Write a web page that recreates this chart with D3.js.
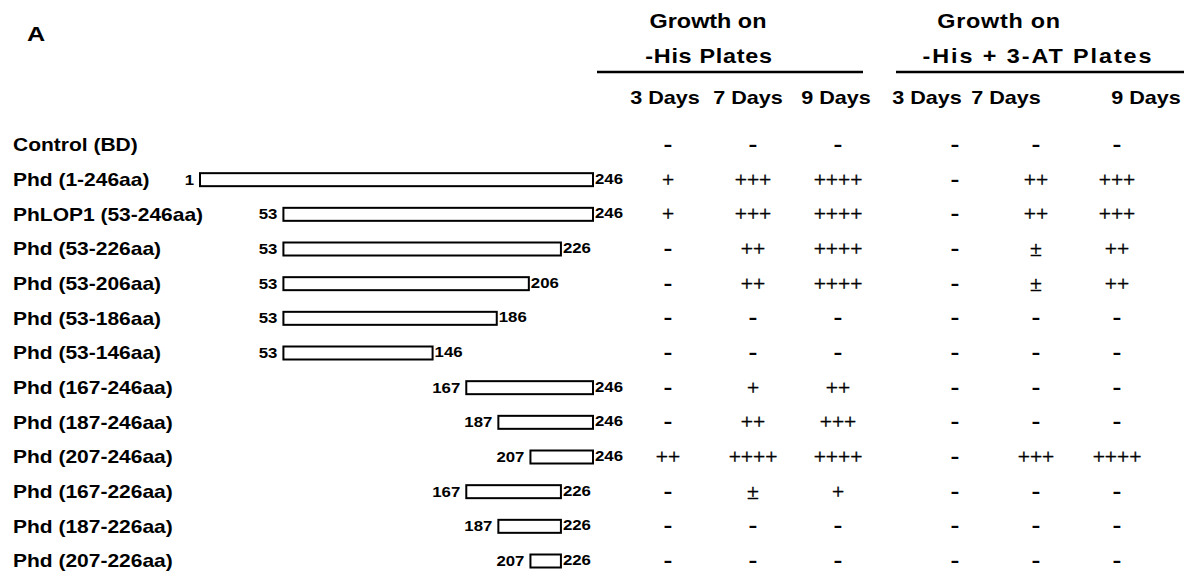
<!DOCTYPE html>
<html>
<head>
<meta charset="utf-8">
<script src="https://cdn.jsdelivr.net/npm/d3@7"></script>
<style>
  body { margin: 0; background: #fff; }
  text { font-family: "Liberation Sans", Arial, Helvetica, sans-serif; fill: #000; }
</style>
</head>
<body>
<svg id="chart"></svg>
<script>
// Data
const constructs = [
  "Control (BD)", "Phd (1-246aa)", "PhLOP1 (53-246aa)", "Phd (53-226aa)",
  "Phd (53-206aa)", "Phd (53-186aa)", "Phd (53-146aa)", "Phd (167-246aa)",
  "Phd (187-246aa)", "Phd (207-246aa)", "Phd (167-226aa)", "Phd (187-226aa)",
  "Phd (207-226aa)"
];
const startAA = [null, 1, 53, 53, 53, 53, 53, 167, 187, 207, 167, 187, 207];
const endAA   = [null, 246, 246, 226, 206, 186, 146, 246, 246, 246, 226, 226, 226];
const days = ["3 Days", "7 Days", "9 Days"];
const hisGrowth = [
  ["-", "-", "-"], ["+", "+++", "++++"], ["+", "+++", "++++"], ["-", "++", "++++"],
  ["-", "++", "++++"], ["-", "-", "-"], ["-", "-", "-"], ["-", "+", "++"],
  ["-", "++", "+++"], ["++", "++++", "++++"], ["-", "±", "+"], ["-", "-", "-"],
  ["-", "-", "-"]
];
const atGrowth = [
  ["-", "-", "-"], ["-", "++", "+++"], ["-", "++", "+++"], ["-", "±", "++"],
  ["-", "±", "++"], ["-", "-", "-"], ["-", "-", "-"], ["-", "-", "-"],
  ["-", "-", "-"], ["-", "+++", "++++"], ["-", "-", "-"], ["-", "-", "-"],
  ["-", "-", "-"]
];

const w = 1184, h = 573;
const SX = 1.2; // the scanned figure is stretched horizontally

const svg = d3.select("#chart").attr("width", w).attr("height", h);

// Scales
const y = d3.scalePoint().domain(d3.range(constructs.length)).range([145, 561]);
const x = d3.scaleLinear().domain([1, 246]).range([200, 593]);
const colHis = d3.scalePoint().domain(days).range([668, 838]);
const colAT = d3.scalePoint().domain(days).range([955, 1117]);

function put(sel, fx, fy, sx = SX) {
  return sel.attr("transform", (d, i) => `translate(${fx(d, i)},${fy(d, i)}) scale(${sx},1)`);
}

// Panel letter and headers
put(svg.append("text"), () => 27, () => 41)
  .style("font-weight", "bold").style("font-size", "21px").text("A");

const headers = [
  { cx: [708, 709], lines: ["Growth on", "-His Plates"], spacing: [0, 0.6], line: [597, 863], dayX: [665, 748, 836] },
  { cx: [999, 1038], lines: ["Growth on", "-His + 3-AT Plates"], spacing: [0.6, 1.6], line: [896, 1184], dayX: [927, 1006, 1146] }
];
headers.forEach(hd => {
  const g = svg.append("g");
  put(g.selectAll("text.h").data(hd.lines).enter().append("text").attr("class", "h"),
      (d, i) => hd.cx[i], (d, i) => i === 0 ? 28 : 63)
    .attr("text-anchor", "middle")
    .style("font-weight", "bold").style("font-size", "19.5px")
    .style("letter-spacing", (d, i) => hd.spacing[i] + "px")
    .text(d => d);
  g.append("line")
    .attr("x1", hd.line[0]).attr("x2", hd.line[1])
    .attr("y1", 72).attr("y2", 72)
    .attr("stroke", "#000").attr("stroke-width", 2.5);
  put(g.selectAll("text.d").data(days).enter().append("text").attr("class", "d"),
      (d, i) => hd.dayX[i], () => 104)
    .attr("text-anchor", "middle")
    .style("font-weight", "bold").style("font-size", "18px")
    .text(d => d);
});

// Row labels
put(svg.selectAll("text.label").data(constructs).enter().append("text").attr("class", "label"),
    () => 13, (d, i) => y(i))
  .attr("dy", "0.36em")
  .style("font-weight", "bold").style("font-size", "17.5px")
  .text(d => d);

// Construct bars
const rows = d3.range(constructs.length).filter(i => startAA[i] !== null);
const barH = 13;
const bars = svg.selectAll("g.bar").data(rows).enter().append("g").attr("class", "bar");

bars.append("rect")
  .attr("x", i => x(startAA[i]))
  .attr("y", i => y(i) - barH / 2)
  .attr("width", i => x(endAA[i]) - x(startAA[i]))
  .attr("height", barH)
  .attr("fill", "#fff").attr("stroke", "#000").attr("stroke-width", 2);

put(bars.append("text"), i => x(startAA[i]) - 6, i => y(i))
  .attr("text-anchor", "end").attr("dy", "0.36em")
  .style("font-weight", "bold").style("font-size", "14px")
  .text(i => startAA[i]);

put(bars.append("text"), i => x(endAA[i]) + 2, i => y(i) - 1)
  .attr("dy", "0.36em")
  .style("font-weight", "bold").style("font-size", "14px")
  .text(i => endAA[i]);

// Growth scores
function scores(data, col) {
  const cells = [];
  data.forEach((r, i) => r.forEach((v, j) => cells.push({ row: i, day: days[j], v })));
  const t = svg.append("g")
    .selectAll("text").data(cells).enter().append("text")
    .attr("text-anchor", "middle")
    .text(d => d.v);
  t.filter(d => d.v === "-")
    .attr("transform", d => `translate(${col(d.day)},${y(d.row) + 6}) scale(1.4,1)`)
    .style("font-weight", "bold").style("font-size", "19px");
  t.filter(d => d.v !== "-")
    .attr("transform", d => `translate(${col(d.day)},${y(d.row) + 7}) scale(1.08,1)`)
    .style("font-family", "'Liberation Serif', 'Times New Roman', serif")
    .style("font-size", "20px")
    .style("stroke", "#000").style("stroke-width", 0.4);
}
scores(hisGrowth, colHis);
scores(atGrowth, colAT);
</script>
</body>
</html>
